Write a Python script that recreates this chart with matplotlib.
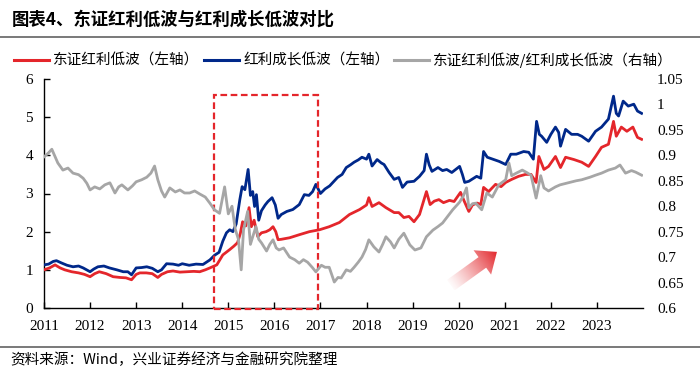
import numpy as np
import matplotlib
matplotlib.use("Agg")
import matplotlib.pyplot as plt
from matplotlib.patches import Rectangle, Polygon
from matplotlib.lines import Line2D

# ---- data (decimal years) ----
red_x = [2011.00, 2011.12, 2011.24, 2011.35, 2011.45, 2011.60, 2011.75, 2011.88, 2012.00, 2012.10,
         2012.20, 2012.35, 2012.50, 2012.65, 2012.78, 2012.90, 2013.00, 2013.08, 2013.22, 2013.35,
         2013.47, 2013.55, 2013.68, 2013.80, 2013.95, 2014.10, 2014.25, 2014.38, 2014.50, 2014.60,
         2014.75, 2014.88, 2015.03, 2015.12, 2015.20, 2015.26, 2015.31, 2015.38, 2015.45, 2015.50,
         2015.56, 2015.64, 2015.72, 2015.82, 2015.90, 2015.97, 2016.03, 2016.08, 2016.15, 2016.33,
         2016.54, 2016.76, 2016.98, 2017.19, 2017.41, 2017.63, 2017.85, 2018.00, 2018.05, 2018.12,
         2018.27, 2018.42, 2018.60, 2018.70, 2018.81, 2018.92, 2019.03, 2019.15, 2019.30, 2019.38,
         2019.47, 2019.57, 2019.67, 2019.80, 2019.90, 2020.04, 2020.12, 2020.22, 2020.30, 2020.40,
         2020.48, 2020.54, 2020.65, 2020.80, 2020.92, 2021.02, 2021.15, 2021.30, 2021.45, 2021.57,
         2021.68, 2021.74, 2021.85, 2021.95, 2022.10, 2022.21, 2022.32, 2022.50, 2022.67, 2022.82,
         2022.97, 2023.10, 2023.25, 2023.36, 2023.42, 2023.53, 2023.65, 2023.78, 2023.88, 2023.97]
red_y = [1.00, 1.05, 1.13, 1.05, 1.00, 0.95, 0.92, 0.88, 0.82, 0.90,
         0.95, 0.90, 0.82, 0.80, 0.79, 0.74, 0.88, 0.92, 0.92, 0.90,
         0.80, 0.88, 0.95, 0.97, 0.94, 0.95, 0.96, 0.95, 1.00, 1.05,
         1.13, 1.39, 1.53, 1.62, 1.71, 1.95, 2.26, 2.15, 2.63, 2.13,
         2.30, 1.87, 1.97, 2.00, 2.05, 2.13, 2.00, 1.79, 1.80, 1.84,
         1.92, 2.00, 2.05, 2.13, 2.24, 2.45, 2.58, 2.70, 2.89, 2.66,
         2.76, 2.63, 2.50, 2.50, 2.37, 2.40, 2.26, 2.45, 3.05, 2.71,
         2.80, 2.84, 2.76, 2.82, 2.79, 3.03, 2.80, 2.53, 2.70, 2.75,
         2.71, 3.16, 3.05, 3.24, 3.18, 3.29, 3.37, 3.45, 3.50, 3.50,
         3.29, 3.97, 3.63, 3.71, 3.97, 3.68, 3.95, 3.89, 3.82, 3.71,
         3.97, 4.21, 4.29, 4.89, 4.50, 4.74, 4.63, 4.74, 4.47, 4.42]

blue_x = [2011.00, 2011.10, 2011.20, 2011.27, 2011.38, 2011.50, 2011.63, 2011.75, 2011.85, 2012.00,
          2012.08, 2012.17, 2012.30, 2012.42, 2012.58, 2012.72, 2012.82, 2012.90, 2013.00, 2013.12,
          2013.23, 2013.35, 2013.47, 2013.55, 2013.66, 2013.80, 2013.92, 2014.00, 2014.15, 2014.30,
          2014.45, 2014.60, 2014.70, 2014.80, 2014.88, 2014.96, 2015.03, 2015.10, 2015.17, 2015.25,
          2015.30, 2015.36, 2015.43, 2015.48, 2015.53, 2015.57, 2015.61, 2015.66, 2015.72, 2015.80,
          2015.86, 2015.95, 2016.02, 2016.08, 2016.15, 2016.27, 2016.40, 2016.54, 2016.65, 2016.75,
          2016.83, 2016.90, 2017.00, 2017.10, 2017.20, 2017.37, 2017.47, 2017.56, 2017.65, 2017.73,
          2017.82, 2017.90, 2018.00, 2018.05, 2018.12, 2018.23, 2018.32, 2018.38, 2018.49, 2018.60,
          2018.70, 2018.78, 2018.88, 2019.03, 2019.15, 2019.25, 2019.30, 2019.36, 2019.42, 2019.55,
          2019.65, 2019.74, 2019.85, 2020.02, 2020.08, 2020.13, 2020.22, 2020.30, 2020.39, 2020.48,
          2020.54, 2020.62, 2020.76, 2020.88, 2021.02, 2021.13, 2021.25, 2021.41, 2021.52, 2021.62,
          2021.69, 2021.75, 2021.80, 2021.91, 2022.00, 2022.10, 2022.17, 2022.21, 2022.32, 2022.45,
          2022.58, 2022.67, 2022.82, 2022.97, 2023.10, 2023.25, 2023.36, 2023.42, 2023.47, 2023.57,
          2023.68, 2023.80, 2023.88, 2023.97]
blue_y = [1.13, 1.15, 1.22, 1.24, 1.18, 1.12, 1.08, 1.10, 1.05, 0.95,
          1.02, 1.08, 1.10, 1.05, 1.00, 0.95, 0.95, 0.87, 1.05, 1.06,
          1.08, 1.04, 0.95, 1.00, 1.16, 1.15, 1.12, 1.16, 1.12, 1.15,
          1.14, 1.26, 1.38, 1.46, 1.75, 1.97, 2.05, 2.00, 2.20, 2.84,
          3.18, 3.10, 3.63, 2.95, 3.05, 2.66, 2.97, 2.30, 2.55, 2.70,
          2.79, 2.89, 2.70, 2.35, 2.45, 2.53, 2.58, 2.71, 2.97, 2.95,
          3.05, 3.24, 3.00, 3.12, 3.20, 3.42, 3.50, 3.68, 3.75, 3.82,
          3.88, 3.95, 3.90, 4.03, 3.72, 3.89, 3.80, 3.76, 3.55, 3.37,
          3.42, 3.16, 3.30, 3.32, 3.45, 3.60, 4.03, 3.75, 3.58, 3.68,
          3.60, 3.63, 3.55, 3.71, 3.50, 3.29, 3.32, 3.38, 3.45, 3.40,
          4.10, 3.95, 3.89, 3.84, 3.76, 4.03, 4.03, 4.10, 4.08, 3.90,
          4.89, 4.55, 4.50, 4.34, 4.55, 4.74, 4.60, 4.24, 4.68, 4.55,
          4.55, 4.50, 4.37, 4.63, 4.74, 4.95, 5.55, 5.10, 5.03, 5.42,
          5.29, 5.34, 5.16, 5.10]

ratio_x = [2011.00, 2011.10, 2011.17, 2011.30, 2011.41, 2011.52, 2011.63, 2011.75, 2011.85, 2011.93,
           2012.00, 2012.10, 2012.21, 2012.32, 2012.43, 2012.54, 2012.62, 2012.69, 2012.82, 2012.92,
           2013.00, 2013.12, 2013.23, 2013.32, 2013.40, 2013.47, 2013.55, 2013.62, 2013.73, 2013.85,
           2013.95, 2014.05, 2014.16, 2014.27, 2014.38, 2014.50, 2014.60, 2014.70, 2014.81, 2014.92,
           2015.00, 2015.08, 2015.15, 2015.22, 2015.28, 2015.33, 2015.42, 2015.48, 2015.53, 2015.60,
           2015.66, 2015.72, 2015.83, 2015.90, 2015.97, 2016.04, 2016.10, 2016.20, 2016.33, 2016.44,
           2016.54, 2016.63, 2016.72, 2016.82, 2016.90, 2017.02, 2017.10, 2017.19, 2017.30, 2017.38,
           2017.45, 2017.56, 2017.65, 2017.73, 2017.82, 2017.90, 2017.98, 2018.05, 2018.16, 2018.27,
           2018.35, 2018.42, 2018.52, 2018.60, 2018.70, 2018.81, 2018.94, 2019.05, 2019.18, 2019.30,
           2019.44, 2019.55, 2019.65, 2019.76, 2019.87, 2020.02, 2020.10, 2020.17, 2020.22, 2020.30,
           2020.37, 2020.50, 2020.61, 2020.73, 2020.87, 2021.02, 2021.09, 2021.15, 2021.25, 2021.38,
           2021.48, 2021.57, 2021.68, 2021.78, 2021.85, 2021.95, 2022.10, 2022.20, 2022.38, 2022.55,
           2022.67, 2022.85, 2022.97, 2023.10, 2023.25, 2023.40, 2023.50, 2023.62, 2023.75, 2023.84,
           2023.97]
ratio_y = [0.897, 0.905, 0.912, 0.885, 0.871, 0.875, 0.865, 0.862, 0.855, 0.845,
           0.832, 0.838, 0.834, 0.842, 0.846, 0.826, 0.838, 0.842, 0.832, 0.840,
           0.848, 0.852, 0.857, 0.865, 0.879, 0.852, 0.830, 0.818, 0.836, 0.828,
           0.832, 0.826, 0.826, 0.830, 0.824, 0.818, 0.806, 0.793, 0.786, 0.838,
           0.785, 0.800, 0.755, 0.735, 0.675, 0.753, 0.790, 0.725, 0.740, 0.760,
           0.735, 0.728, 0.712, 0.725, 0.734, 0.718, 0.714, 0.718, 0.700, 0.695,
           0.688, 0.695, 0.690, 0.680, 0.671, 0.684, 0.680, 0.680, 0.651, 0.660,
           0.659, 0.675, 0.672, 0.680, 0.690, 0.700, 0.715, 0.734, 0.720, 0.710,
           0.725, 0.740, 0.730, 0.718, 0.735, 0.747, 0.724, 0.714, 0.718, 0.740,
           0.753, 0.760, 0.767, 0.780, 0.793, 0.808, 0.820, 0.836, 0.797, 0.805,
           0.806, 0.793, 0.826, 0.818, 0.842, 0.852, 0.885, 0.860, 0.865, 0.871,
           0.866, 0.861, 0.816, 0.860, 0.836, 0.830, 0.838, 0.842, 0.846, 0.850,
           0.852, 0.857, 0.861, 0.865, 0.871, 0.875, 0.881, 0.865, 0.870, 0.867,
           0.861]

years = list(range(2011, 2024))
left_ticks = [0, 1, 2, 3, 4, 5, 6]
right_ticks = [0.6, 0.65, 0.7, 0.75, 0.8, 0.85, 0.9, 0.95, 1.0, 1.05]
right_labels = ["0.6", "0.65", "0.7", "0.75", "0.8", "0.85", "0.9", "0.95", "1", "1.05"]

labels = ["东证红利低波（左轴）", "红利成长低波（左轴）", "东证红利低波/红利成长低波（右轴）"]

RED = "#E4262B"
BLUE = "#00288A"
GRAY = "#A6A6A6"

cjk = ["Noto Sans CJK SC", "DejaVu Sans"]
plt.rcParams["font.family"] = ["Liberation Serif", "DejaVu Serif"]

W, H = 700, 373
fig = plt.figure(figsize=(W / 100, H / 100), dpi=100)
ax = fig.add_axes([44 / W, 1 - 308 / H, (643 - 44) / W, (308 - 79) / H])
ax2 = ax.twinx()

ax.plot(red_x, red_y, color=RED, lw=2.0, zorder=3)
ax.plot(blue_x, blue_y, color=BLUE, lw=2.0, zorder=3)
ax2.plot(ratio_x, ratio_y, color=GRAY, lw=2.0, zorder=3)

ax.set_xlim(2011, 2024)
ax.set_ylim(0, 6)
ax2.set_ylim(0.6, 1.05)

ax.set_xticks(years)
ax.set_xticklabels([str(y) for y in years], fontsize=11)
ax.set_yticks(left_ticks)
ax.set_yticklabels([str(t) for t in left_ticks], fontsize=11)
ax2.set_yticks(right_ticks)
ax2.set_yticklabels(right_labels, fontsize=11)

ax.tick_params(axis="x", direction="in", length=4, width=1, pad=9)
ax.tick_params(axis="y", direction="in", length=4, width=1, pad=8)
ax2.tick_params(axis="y", length=0, pad=10)

for s in ["top", "right"]:
    ax.spines[s].set_visible(False)
for s in ["top", "right", "left", "bottom"]:
    ax2.spines[s].set_visible(False)
ax.spines["left"].set_linewidth(1)
ax.spines["bottom"].set_linewidth(1)

# dashed highlight box over 2015-2016
box = Rectangle((2014.70, -0.03), 2016.95 - 2014.70, 5.58 + 0.03, fill=False,
                edgecolor=RED, lw=1.6, ls=(0, (3, 1.6)), clip_on=False, zorder=4)
ax.add_patch(box)

# gradient arrow, built in pixel space then mapped back to data coords
tail = ax.transData.transform((2019.83, 0.60))
tip = ax.transData.transform((2020.83, 1.47))
d = tip - tail
L = np.hypot(*d)
u = d / L
n = np.array([-u[1], u[0]])
bw, hw, hl = 6.5, 15, 18
base = tip - u * hl
pts = np.array([tail + n * bw, base + n * bw, base + n * hw, tip,
                base - n * hw, base - n * bw, tail - n * bw])
inv = ax.transData.inverted()
pts_data = inv.transform(pts)
clip = Polygon(pts_data, closed=True, facecolor="none", edgecolor="none", transform=ax.transData)
ax.add_patch(clip)
x0, y0 = pts.min(axis=0)
x1, y1 = pts.max(axis=0)
gx, gy = np.meshgrid(np.linspace(x0, x1, 80), np.linspace(y0, y1, 80))
t = ((gx - tail[0]) * u[0] + (gy - tail[1]) * u[1]) / L
t = np.clip(t, 0, 1)
img = np.zeros((80, 80, 4))
img[..., 0] = 0.89
img[..., 1] = 0.15
img[..., 2] = 0.17
img[..., 3] = 0.03 + 0.97 * t ** 1.2
(dx0, dy0), (dx1, dy1) = inv.transform([(x0, y0), (x1, y1)])
im = ax.imshow(img, extent=[dx0, dx1, dy0, dy1], origin="lower", aspect="auto",
               interpolation="bilinear", zorder=2)
im.set_clip_path(clip)
ax.set_xlim(2011, 2024)
ax.set_ylim(0, 6)

# title, rules, legend, source
fig.text(12 / W, 1 - 20 / H, "图表4、东证红利低波与红利成长低波对比", family=cjk,
         fontsize=12.5, fontweight="bold", va="center", ha="left")
fig.add_artist(Line2D([0, 1], [1 - 37 / H, 1 - 37 / H], color="#6E6E6E", lw=1.3))
fig.add_artist(Line2D([0, 1], [1 - 347 / H, 1 - 347 / H], color="#6E6E6E", lw=1.3))
fig.text(10 / W, 1 - 360 / H, "资料来源：Wind，兴业证券经济与金融研究院整理", family=cjk,
         fontsize=10.5, va="center", ha="left")

handles = [Line2D([], [], color=RED, lw=2.2), Line2D([], [], color=BLUE, lw=2.2),
           Line2D([], [], color=GRAY, lw=2.2)]
fig.legend(handles, labels, loc="center left", bbox_to_anchor=(14 / W, 1 - 60 / H),
           ncol=3, frameon=False, prop={"family": cjk, "size": 10.5},
           handlelength=2.4, handletextpad=0.3, columnspacing=0.3,
           borderaxespad=0, borderpad=0)

fig.savefig("out.png", dpi=100)
